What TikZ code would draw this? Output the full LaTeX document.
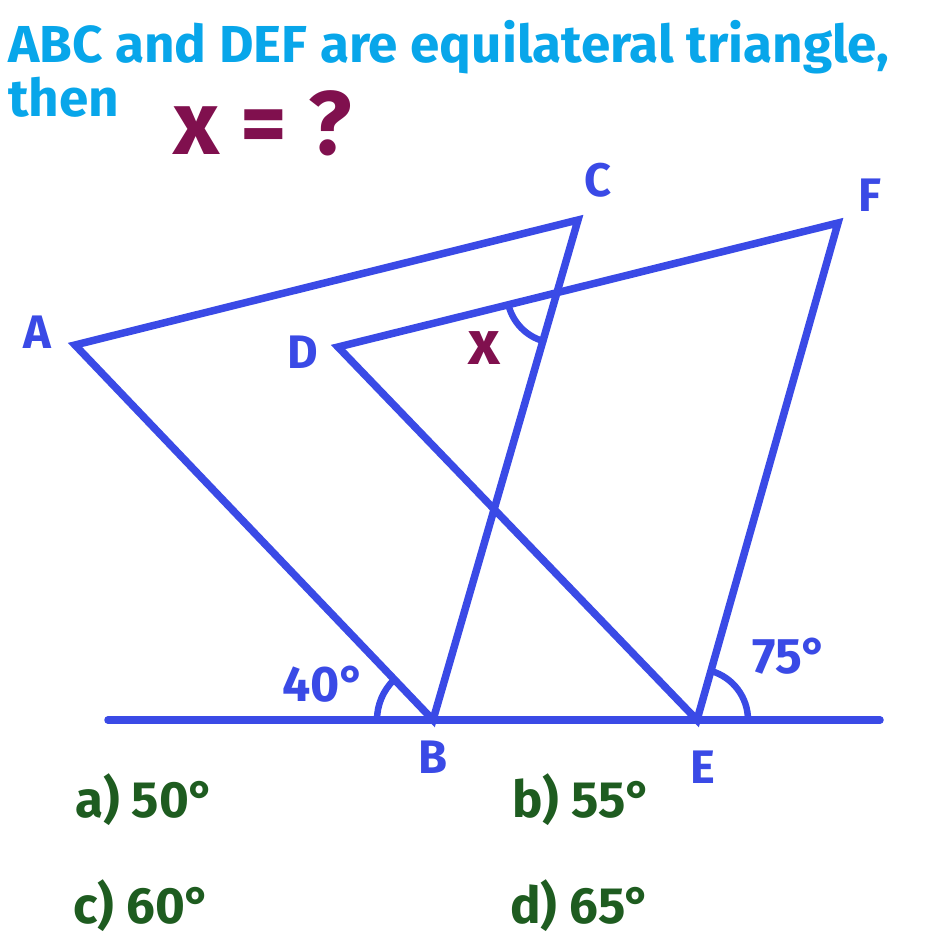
\documentclass[tikz,border=0pt]{standalone}
\usepackage{fontspec}
\setmainfont{Fira Sans}
\newfontfamily\condfont{Fira Sans}[FakeStretch=1.02]
\definecolor{titlecyan}{RGB}{8,166,234}
\definecolor{lineblue}{RGB}{58,74,230}
\definecolor{xmaroon}{RGB}{128,16,78}
\definecolor{optgreen}{RGB}{30,92,32}
\tikzset{
  geo/.style={draw=lineblue, line width=7.5pt, line join=miter},
  ang/.style={draw=lineblue, line width=6.5pt, line cap=round},
  lbl/.style={text=lineblue, font=\bfseries\fontsize{47}{50}\selectfont, inner sep=0pt},
  opt/.style={text=optgreen, font=\bfseries\fontsize{51}{56}\selectfont, inner sep=0pt, anchor=base west},
  ttl/.style={text=titlecyan, font=\condfont\bfseries\fontsize{52}{56}\selectfont, inner sep=0pt, anchor=base west}
}
\begin{document}
\begin{tikzpicture}[x=1pt,y=1pt]
\useasboundingbox (0,0) rectangle (937,938);
\fill[white] (0,0) rectangle (937,938);
% points
\coordinate (A) at (75,593);
\coordinate (C) at (578,718);
\coordinate (B) at (433,218);
\coordinate (D) at (338,591);
\coordinate (F) at (838,715);
\coordinate (E) at (697,218);
\coordinate (G1) at (108,218);
\coordinate (G2) at (880,218);
\coordinate (X) at (557,645);
% ground
\draw[geo, line cap=round] (G1) -- (G2);
% triangles
\draw[geo] (A) -- (C) -- (B) -- cycle;
\draw[geo] (D) -- (F) -- (E) -- cycle;
% angle arcs
\draw[ang] ([shift={(180:56pt)}]B) arc (180:134:56pt);
\draw[ang] ([shift={(0:51pt)}]E) arc (0:74:51pt);
\draw[ang] ([shift={(194:50pt)}]X) arc (194:254:50pt);
% title
\node[ttl] (t1) at (8,875) {ABC and DEF are equilateral triangle,};
\node[ttl] (t2) at (8,821) {then};
\node[text=xmaroon, font=\bfseries\fontsize{90}{94}\selectfont, inner sep=0pt, anchor=base west] (q) at (173,783) {x = ?};
% labels
\node[lbl] (lA) at (37,606) {A};
\node[lbl] (lC) at (598,758) {C};
\node[lbl] (lF) at (870,743) {F};
\node[lbl] (lD) at (303,586) {D};
\node[lbl] (lB) at (433,181) {B};
\node[lbl] (lE) at (703,171) {E};
\node[text=xmaroon, font=\bfseries\fontsize{62}{64}\selectfont, inner sep=0pt] (lx) at (484,590) {x};
\node[lbl, font=\bfseries\fontsize{50}{54}\selectfont] (a40) at (324,254) {40°};
\node[lbl, font=\bfseries\fontsize{50}{54}\selectfont] (a75) at (790,282) {75°};
% options
\node[opt] (oa) at (75,120) {a) 50°};
\node[opt] (ob) at (512,120) {b) 55°};
\node[opt] (oc) at (73,15) {c) 60°};
\node[opt] (od) at (510,15) {d) 65°};
\end{tikzpicture}
\end{document}
